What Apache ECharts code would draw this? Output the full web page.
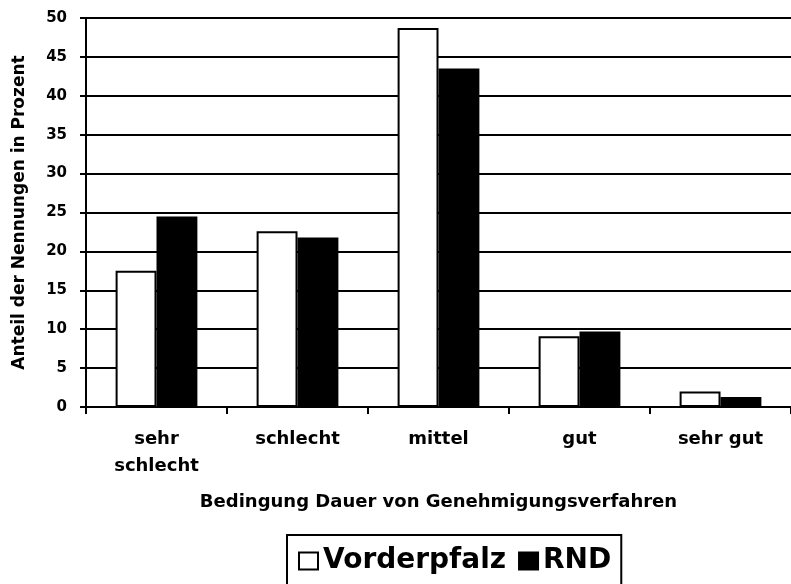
<!DOCTYPE html>
<html>
<head>
<meta charset="utf-8">
<script src="https://cdn.jsdelivr.net/npm/echarts@6/dist/echarts.min.js"></script>
<style>
    html, body { margin: 0; padding: 0; background: #fff; }
    #chart { width: 791px; height: 584px; }
</style>
</head>
<body>
<div id="chart"></div>
<script>
var categories = ["sehr\nschlecht", "schlecht", "mittel", "gut", "sehr gut"];
var vorderpfalz = [17.5, 22.6, 48.7, 9.1, 2.0];
var rnd = [24.5, 21.8, 43.5, 9.7, 1.3];
var yTicks = { min: 0, max: 50, step: 5 };

var chart = echarts.init(document.getElementById("chart"));
var font = "DejaVu Sans, Liberation Sans, sans-serif";

var option = {
    backgroundColor: "#fff",
    animation: false,
    grid: {
        left: 86,
        top: 18,
        width: 712,
        height: 389
    },
    legend: {
        left: 287,
        top: 535,
        orient: "horizontal",
        borderColor: "#000",
        borderWidth: 2,
        padding: [12, 10, 20, 11],
        itemGap: 12,
        itemWidth: 19,
        itemHeight: 17,
        icon: "rect",
        textStyle: { fontFamily: font, fontWeight: "bold", fontSize: 28, color: "#000" },
        data: ["Vorderpfalz", "RND"]
    },
    xAxis: {
        type: "category",
        data: categories,
        name: "Bedingung Dauer von Genehmigungsverfahren",
        nameLocation: "middle",
        nameGap: 86,
        nameTextStyle: { fontFamily: font, fontWeight: "bold", fontSize: 18, color: "#000" },
        axisLine: { lineStyle: { color: "#000", width: 2 } },
        axisTick: { show: true, length: 7, lineStyle: { color: "#000", width: 2 } },
        axisLabel: {
            fontFamily: font, fontWeight: "bold", fontSize: 18, color: "#000",
            margin: 19, lineHeight: 27, interval: 0
        }
    },
    yAxis: {
        type: "value",
        min: yTicks.min,
        max: yTicks.max,
        interval: yTicks.step,
        name: "Anteil der Nennungen in Prozent",
        nameLocation: "middle",
        nameGap: 58,
        nameTextStyle: { fontFamily: font, fontWeight: "bold", fontSize: 17, color: "#000" },
        axisLine: { show: true, lineStyle: { color: "#000", width: 2 } },
        axisTick: { show: true, length: 6, lineStyle: { color: "#000", width: 2 } },
        axisLabel: { fontFamily: font, fontWeight: "bold", fontSize: 15, color: "#000", margin: 19 },
        splitLine: { show: true, lineStyle: { color: "#000", width: 2 } }
    },
    series: [
        {
            name: "Vorderpfalz",
            type: "bar",
            data: vorderpfalz,
            barGap: "0%",
            barCategoryGap: "42%",
            itemStyle: { color: "#fff", borderColor: "#000", borderWidth: 2 }
        },
        {
            name: "RND",
            type: "bar",
            data: rnd,
            itemStyle: { color: "#000", borderColor: "#000", borderWidth: 2 }
        }
    ]
};
chart.setOption(option);
</script>
</body>
</html>
